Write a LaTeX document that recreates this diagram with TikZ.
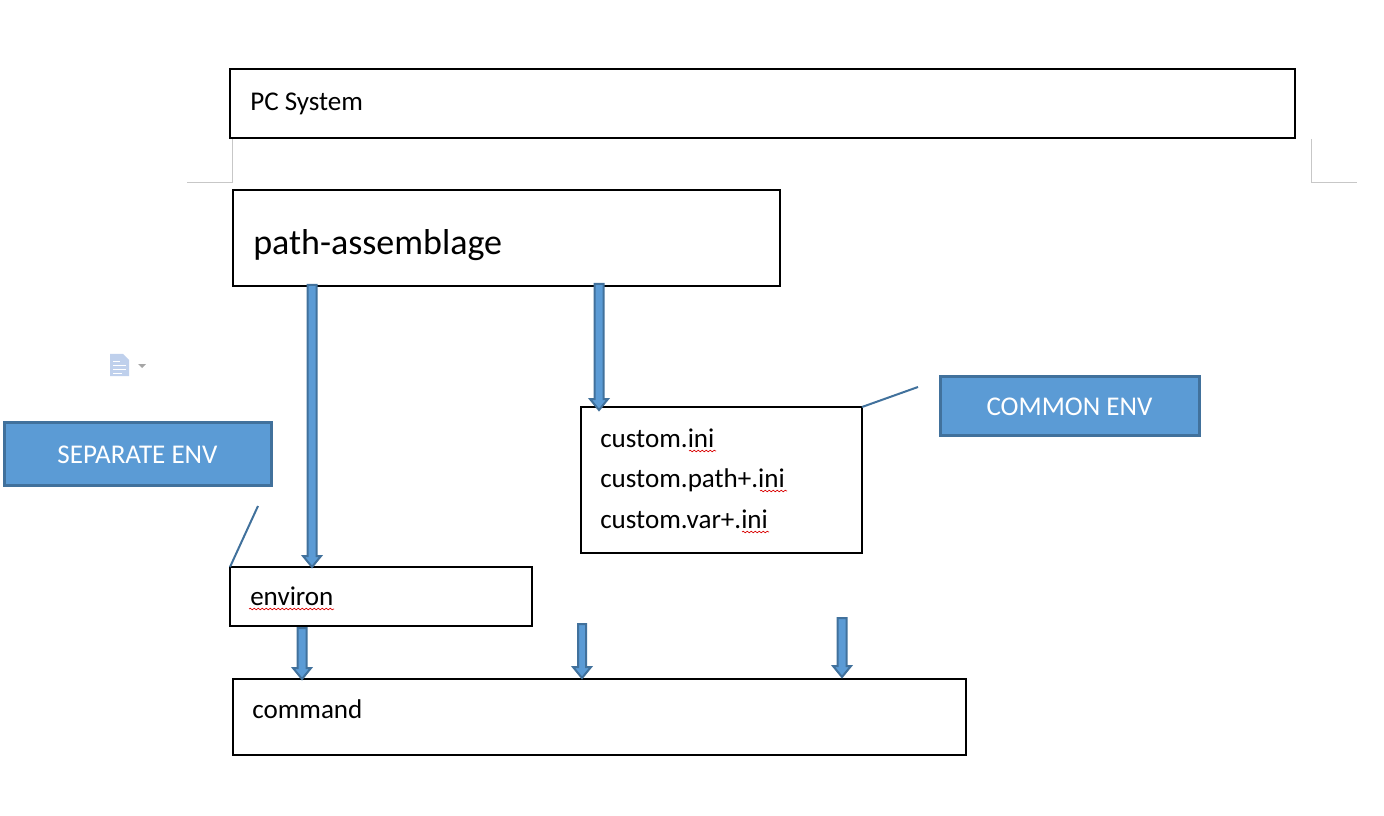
\documentclass[tikz,border=0pt]{standalone}
\usepackage{fontspec}
\setmainfont{Carlito}
\usetikzlibrary{calc,decorations.pathmorphing}
\definecolor{arrowfill}{HTML}{5B9BD5}
\definecolor{arrowedge}{HTML}{41719C}
\definecolor{iconblue}{HTML}{BFD0EC}
\tikzset{
box/.style 2 args={draw,line width=1.5pt,anchor=north west,outer sep=0pt,inner sep=0pt,
  minimum width=#1*0.75pt,minimum height=#2*0.75pt},
tagbox/.style 2 args={draw=arrowedge,fill=arrowfill,line width=2.25pt,text=white,font=\fontsize{20.3}{24}\selectfont,
  text height=15pt,text depth=0pt,
  anchor=north west,outer sep=0pt,inner sep=0pt,minimum width=#1*0.75pt,minimum height=#2*0.75pt},
txt/.style={anchor=base west,inner sep=0pt,font=\fontsize{20.3}{24}\selectfont},
leader/.style={draw=arrowedge,line width=1.5pt},
margin/.style={draw=black!22,line width=0.75pt},
squiggle/.style={draw=red!85!black,line width=0.5pt,decorate,
  decoration={snake,amplitude=0.6pt,segment length=3pt}},
blockarrow/.style={draw=arrowedge,fill=arrowfill,line width=1.5pt,line join=miter,
  to path={($(\tikztostart)+(-#1,0)$)--($(\tikztotarget)+(-#1,-11)$)--($(\tikztotarget)+(-9,-11)$)
  --(\tikztotarget)--($(\tikztotarget)+(9,-11)$)--($(\tikztotarget)+(#1,-11)$)
  --($(\tikztostart)+(#1,0)$)--cycle}},
blockarrow/.default=4.5
}
\begin{document}
\begin{tikzpicture}[x=0.75pt,y=-0.75pt]
\useasboundingbox(0,0)rectangle(1384,816);
% margin marks
\draw[margin](232,139)--(232,183)--(187,183);
\draw[margin](1311,139)--(1311,183)--(1357,183);
% boxes
\node[box={1065}{69}](pc)at(230,69){};
\node[box={547}{96}](asm)at(233,190){};
\node[box={281}{146}](ini)at(581,407){};
\node[box={302}{59}](env)at(230,567){};
\node[box={733}{76}](cmd)at(233,679){};
\node[tagbox={267}{63}](sep)at(4,422){SEPARATE ENV};
\node[tagbox={259}{59}](com)at(940,376){COMMON ENV};
% texts
\node[txt](pctxt)at(250,111){PC System};
\node[txt,font=\fontsize{27}{32}\selectfont](asmtxt)at(253,255){path-assemblage};
\node[txt](initxt)at(600,447){custom.ini};
\node[txt](pathtxt)at(600,487){custom.path+.ini};
\node[txt](vartxt)at(600,528){custom.var+.ini};
\node[txt](envtxt)at(250,605){environ};
\node[txt](cmdtxt)at(252,718){command};
\draw[squiggle](689,451)--(716,451);
\draw[squiggle](760,491)--(787,491);
\draw[squiggle](742,532)--(769,532);
\draw[squiggle](249,609)--(334,609);
% leaders
\coordinate(sepend)at(258,506);\coordinate(comend)at(918,387);
\draw[leader](sepend)--(env.north west);
\draw[leader](ini.north east)--(comend);
% arrows
\coordinate(a)at(312,285);\coordinate(b)at(599,284);
\coordinate(c)at(302,628);\coordinate(d)at(582,624);\coordinate(e)at(842,618);
\draw[blockarrow](a)to(a|-env.north);
\draw[blockarrow](b)to($(b|-ini.north)+(0,3)$);
\draw[blockarrow](c)to(c|-cmd.north);
\draw[blockarrow=4](d)to($(d|-cmd.north)+(0,-1)$);
\draw[blockarrow](e)to($(e|-cmd.north)+(0,-2)$);
% icon
\fill[iconblue](110,354)--(123,354)--(129,360)--(129,376)--(110,376)--cycle;
\draw[white,line width=0.75pt](113,361)--(120,361)(113,365)--(126,365)(113,369)--(126,369)(113,373)--(122,373);
\fill[black!35](138,364)--(146,364)--(142,368)--cycle;
\end{tikzpicture}
\end{document}
